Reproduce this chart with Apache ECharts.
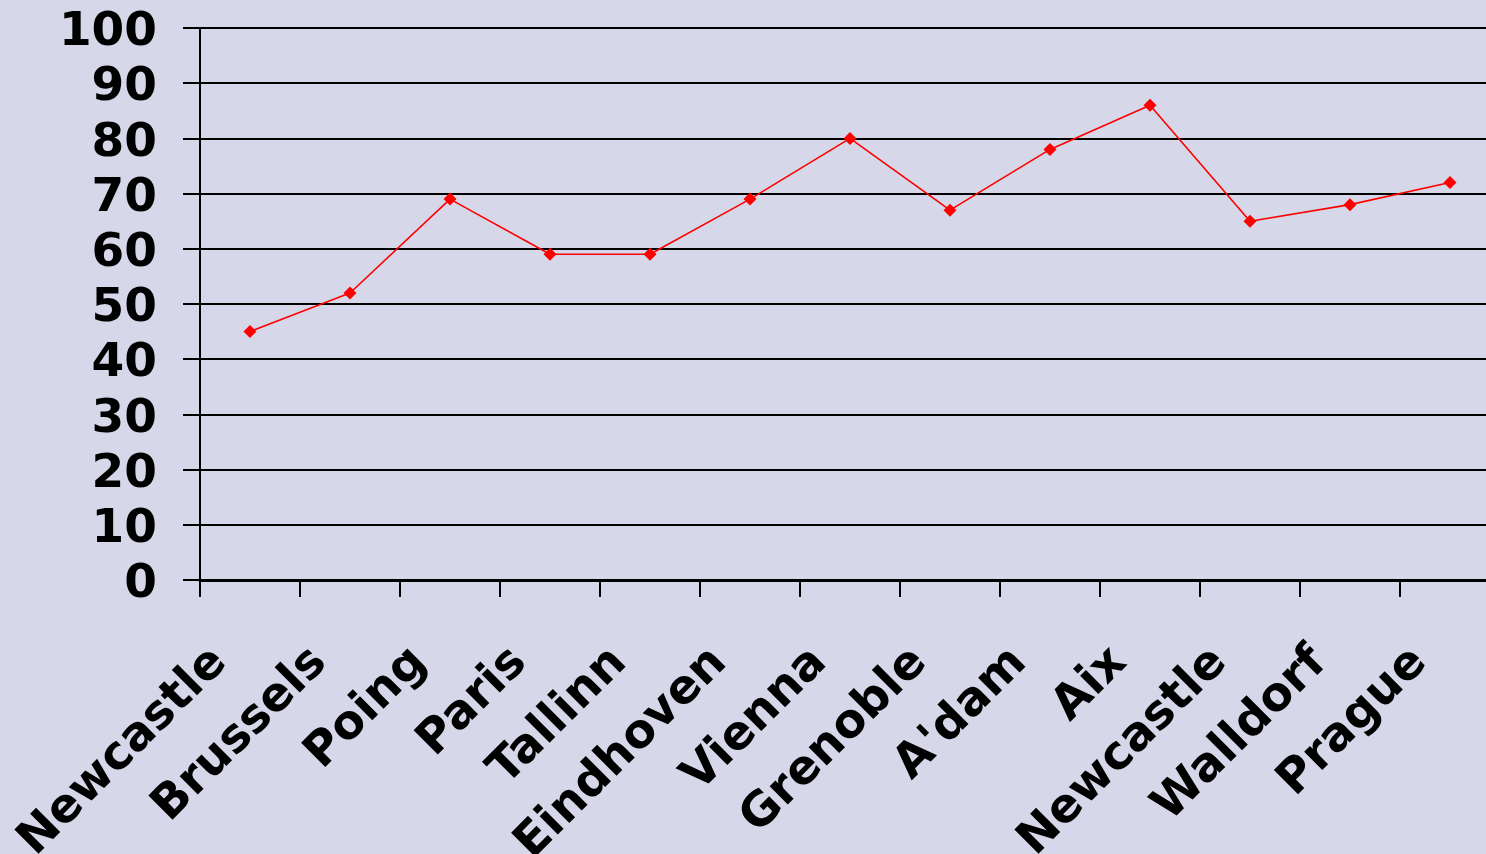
<!DOCTYPE html>
<html>
<head>
<meta charset="utf-8">
<script src="https://cdn.jsdelivr.net/npm/echarts@6/dist/echarts.min.js"></script>
<style>
html, body { margin: 0; padding: 0; background: #D6D7E8; overflow: hidden; }
/* chart is a bit wider than the window: the last category runs off the right edge */
#main { width: 1500px; height: 854px; }
</style>
</head>
<body>
<div id="main"></div>
<script>
// sites along the x axis (Newcastle appears twice)
var sites = ['Newcastle', 'Brussels', 'Poing', 'Paris', 'Tallinn', 'Eindhoven', 'Vienna',
             'Grenoble', "A'dam", 'Aix', 'Newcastle', 'Walldorf', 'Prague'];
var scores = [45, 52, 69, 59, 59, 69, 80, 67, 78, 86, 65, 68, 72];
var yTicks = [0, 10, 20, 30, 40, 50, 60, 70, 80, 90, 100];

var myChart = echarts.init(document.getElementById('main'));
var labelFont = {
    fontFamily: 'DejaVu Sans',
    fontWeight: 'bold',
    fontSize: 47,
    color: '#000'
};

myChart.setOption({
    backgroundColor: '#D6D7E8',
    animation: false,
    grid: {
        left: 200,
        top: 28,
        width: 1300,
        height: 552,
        outerBoundsMode: 'none'
    },
    xAxis: {
        type: 'category',
        data: sites,
        boundaryGap: true,
        axisLine: { lineStyle: { color: '#000', width: 3 } },
        axisTick: { show: true, length: 17, lineStyle: { color: '#000', width: 2 } },
        axisLabel: Object.assign({ rotate: 45, margin: 45, interval: 0, padding: [0, 43, 0, 0] }, labelFont),
        splitLine: { show: false }
    },
    yAxis: {
        type: 'value',
        min: yTicks[0],
        max: yTicks[yTicks.length - 1],
        interval: 10,
        axisLine: { show: true, lineStyle: { color: '#000', width: 2 } },
        axisTick: { show: true, length: 17, lineStyle: { color: '#000', width: 2 } },
        // labels sit a few px below their grid line
        axisLabel: Object.assign({ margin: 43, verticalAlign: 'top', lineHeight: 10 }, labelFont),
        splitLine: { lineStyle: { color: '#000', width: 2 } }
    },
    series: [{
        name: 'score',
        type: 'line',
        data: scores,
        symbol: 'diamond',
        symbolSize: 13,
        itemStyle: { color: '#FF0000' },
        lineStyle: { color: '#FF0000', width: 1.6 }
    }]
});
</script>
</body>
</html>
